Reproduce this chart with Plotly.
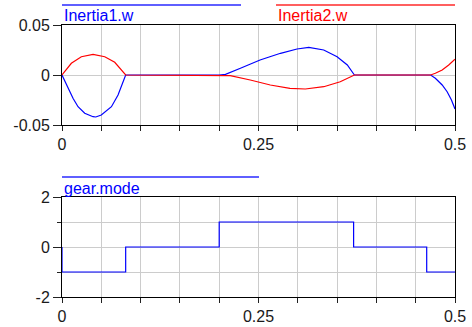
import plotly.graph_objects as go

# ---- data ----
t_inertia1 = [0, 0.0076, 0.014, 0.0204, 0.0289, 0.0395, 0.043, 0.050, 0.0629, 0.0713, 0.0777, 0.081,
              0.2, 0.208, 0.227, 0.252, 0.278, 0.299, 0.314, 0.333, 0.350, 0.363, 0.372,
              0.469, 0.475, 0.4837, 0.490, 0.4955, 0.5]
w_inertia1 = [0, -0.0133, -0.0233, -0.0317, -0.0383, -0.0417, -0.042, -0.040, -0.0317, -0.020, -0.0067, 0,
              0, 0.0007, 0.0067, 0.015, 0.0217, 0.026, 0.0277, 0.025, 0.0183, 0.010, 0,
              0, -0.0033, -0.010, -0.0167, -0.025, -0.034]

t_inertia2 = [0, 0.0119, 0.0246, 0.0395, 0.0544, 0.0671, 0.081,
              0.2, 0.214, 0.2395, 0.265, 0.290, 0.3096, 0.333, 0.354, 0.372,
              0.469, 0.475, 0.4837, 0.492, 0.5]
w_inertia2 = [0, 0.0117, 0.0183, 0.0207, 0.0183, 0.0127, 0,
              0, -0.0007, -0.005, -0.010, -0.0133, -0.014, -0.0117, -0.0067, 0,
              0, 0.0017, 0.005, 0.010, 0.0157]

t_mode = [0, 0, 0.081, 0.2, 0.371, 0.464, 0.5]
gear_mode = [0, -1, 0, 1, 0, -1, -1]

x_ticks = [0, 0.05, 0.1, 0.15, 0.2, 0.25, 0.3, 0.35, 0.4, 0.45, 0.5]
x_ticktext = ["0", "", "", "", "", "0.25", "", "", "", "", "0.5"]
y1_ticks = [-0.05, 0, 0.05]
y1_ticktext = ["-0.05", "0", "0.05"]
y2_ticks = [-2, 0, 2]
y2_ticktext = ["-2", "0", "2"]

series_names = ["Inertia1.w", "Inertia2.w", "gear.mode"]

BLUE = "#0000ff"
RED = "#ff0000"
GRID = "#cccccc"
FONT = "Liberation Sans, Arial, sans-serif"

fig = go.Figure()
fig.add_trace(go.Scatter(x=t_inertia1, y=w_inertia1, mode="lines", line=dict(color=BLUE, width=1.2),
                         xaxis="x", yaxis="y", name=series_names[0]))
fig.add_trace(go.Scatter(x=t_inertia2, y=w_inertia2, mode="lines", line=dict(color=RED, width=1.2),
                         xaxis="x", yaxis="y", name=series_names[1]))
fig.add_trace(go.Scatter(x=t_mode, y=gear_mode, mode="lines", line=dict(color=BLUE, width=1.2, shape="hv"),
                         xaxis="x2", yaxis="y2", name=series_names[2]))

xcommon = dict(range=[0, 0.5], tickmode="array", tickvals=x_ticks, ticktext=x_ticktext,
               ticks="outside", ticklen=5, tickcolor="#222", showgrid=True, gridcolor=GRID, gridwidth=1,
               showline=True, linecolor="black", linewidth=1, mirror=True, zeroline=False,
               automargin=False,
               tickfont=dict(size=16, color="#1a1a1a", family=FONT))
ycommon = dict(ticks="outside", ticklen=8, tickcolor="#222", showgrid=True, gridcolor=GRID, gridwidth=1,
               showline=True, linecolor="black", linewidth=1, mirror=True, zeroline=False,
               automargin=False,
               tickfont=dict(size=16, color="#1a1a1a", family=FONT))

top_bottom = 1 - 100 / 272
bot_top = 1 - 172 / 272

fig.update_layout(
    width=472, height=327,
    margin=dict(l=62, r=17, t=25, b=30, autoexpand=False),
    paper_bgcolor="white", plot_bgcolor="white",
    showlegend=False,
    font=dict(family=FONT, size=16),
    xaxis=dict(anchor="y", domain=[0, 1], **xcommon),
    yaxis=dict(anchor="x", domain=[top_bottom, 1], range=[-0.05, 0.05], tickmode="array",
               tickvals=y1_ticks, ticktext=y1_ticktext, **ycommon),
    xaxis2=dict(anchor="y2", domain=[0, 1], **xcommon),
    yaxis2=dict(anchor="x2", domain=[0, bot_top], range=[-2, 2], tickmode="array",
                tickvals=y2_ticks, ticktext=y2_ticktext,
                minor=dict(tickvals=[-1, 1], ticklen=4, tickcolor="#222", ticks="outside",
                           showgrid=True, gridcolor=GRID, gridwidth=1),
                **ycommon),
)

def px_to_paper_y(p):
    return (297 - p) / 272

def px_to_paper_x(p):
    return (p - 62) / 393

legend_items = [
    (series_names[0], "#2a2aff", 62, 241, 5, 15.8),
    (series_names[1], "#ff2a2a", 276, 455, 5, 15.8),
    (series_names[2], "#2a2aff", 62, 259, 177, 188),
]
text_colors = [BLUE, RED, BLUE]
for (name, color, x0, x1, yline, ytext), tc in zip(legend_items, text_colors):
    fig.add_shape(type="line", xref="paper", yref="paper", layer="above",
                  x0=px_to_paper_x(x0), x1=px_to_paper_x(x1),
                  y0=px_to_paper_y(yline), y1=px_to_paper_y(yline),
                  line=dict(color=color, width=1.3))
    fig.add_annotation(text=name, xref="paper", yref="paper",
                       x=px_to_paper_x(x0), y=px_to_paper_y(ytext),
                       xanchor="left", yanchor="middle", showarrow=False,
                       font=dict(color=tc, size=16, family=FONT))

fig.write_html("out.html",
               config={"displayModeBar": False},
               post_script="document.body.style.margin='0';document.body.style.overflow='hidden';")
